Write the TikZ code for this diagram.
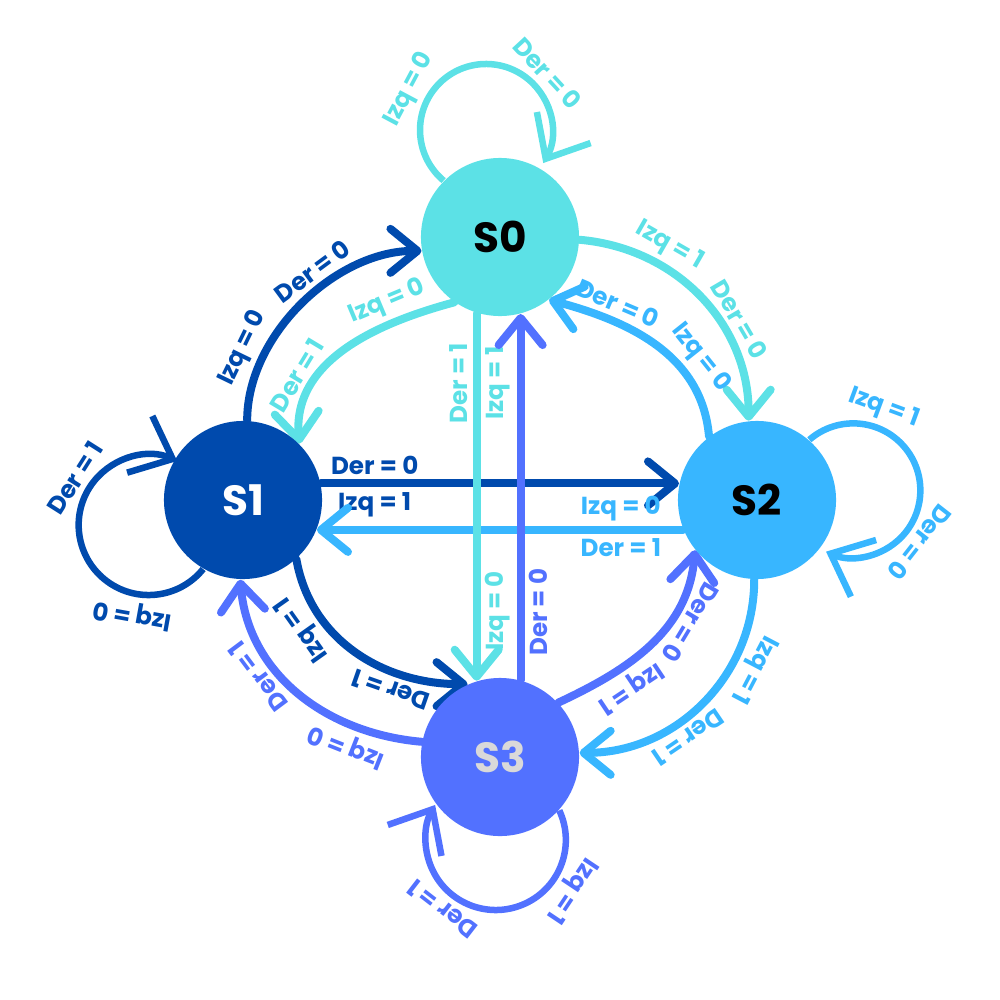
\documentclass[tikz,border=0pt]{standalone}
\usepackage{fontspec}
\setmainfont{Poppins}
\usetikzlibrary{arrows.meta,backgrounds}

\definecolor{cturq}{HTML}{5CE1E6}
\definecolor{cnavy}{HTML}{004AAD}
\definecolor{csky}{HTML}{38B6FF}
\definecolor{cviolet}{HTML}{5271FF}
\definecolor{cgray}{HTML}{D9D9D9}

\tikzset{
  state/.style={circle, minimum size=15.8mm, inner sep=0pt, font=\fontsize{12}{14}\selectfont\bfseries},
  tr/.style={line width=0.8mm, line cap=round, -{Straight Barb[length=2.7mm,width=4.4mm,round]}},
  selfloop/.style={line width=0.65mm, -{Straight Barb[length=3.6mm,width=6.2mm]}},
  lbl/.style={font=\fontsize{7}{8}\selectfont\bfseries, inner sep=1.4pt},
  lab/.style={lbl, sloped, above},
  labu/.style={lbl, sloped, allow upside down, above},
  labr/.style={lbl, sloped, allow upside down, rotate=180, above},
  rot/.style={lbl, rotate=90}
}

\begin{document}
\begin{tikzpicture}[x=0.01cm,y=0.01cm]
\useasboundingbox (0,0) rectangle (1000,-1000);

% states
\node[state, fill=cturq] (S0) at (500,-237) {S0};
\node[state, fill=cnavy, text=white] (S1) at (243,-500) {S1};
\node[state, fill=csky] (S2) at (757,-500) {S2};
\node[state, fill=cviolet, text=cgray] (S3) at (500,-757) {S3};

\begin{scope}[on background layer]
% self loops
\draw[selfloop, cturq] (S0.135) arc[start angle=-130, end angle=-390, radius=6.6mm]
  node[labu, pos=0.3] {Izq = 0} node[labu, pos=0.72] {Der = 0};
\draw[selfloop, cnavy] (S1.-120) arc[start angle=-39, end angle=-294, radius=7mm]
  node[labu, pos=0.24] {Izq = 0} node[labu, pos=0.68] {Der = 1};
\draw[selfloop, csky] (S2.49) arc[start angle=-229, end angle=-474, radius=6.7mm]
  node[labu, pos=0.25] {Izq = 1} node[labu, pos=0.69] {Der = 0};
\draw[selfloop, cviolet] (S3.-42) arc[start angle=25, end angle=-210, radius=7mm]
  node[labu, pos=0.25] {Izq = 1} node[labu, pos=0.65] {Der = 1};

% curved transitions
\draw[tr, cnavy] (S1.87) to[out=90, in=180, looseness=0.9]
  node[lab, pos=0.25] {Izq = 0} node[lab, pos=0.6] {Der = 0} (S0.190);
\draw[tr, cturq] (S0.235) to[out=195, in=95]
  node[lab, pos=0.25] {Izq = 0} node[lab, pos=0.72] {Der = 1} (S1.45);
\draw[tr, cturq] (S0.358) to[out=-5, in=90]
  node[lab, pos=0.3] {Izq = 1} node[lab, pos=0.65] {Der = 0} (S2.96);
\draw[tr, csky] (S2.127) to[out=95, in=-15]
  node[lab, pos=0.32] {Izq = 0} node[lab, pos=0.73] {Der = 0} (S0.-52);
\draw[tr, cnavy] (S1.-48) to[out=-80, in=180]
  node[labr, pos=0.27] {Izq = 1} node[labr, pos=0.7] {Der = 1} (S3.114);
\draw[tr, cviolet] (S3.169) to[out=175, in=-85]
  node[labu, pos=0.25] {Izq = 0} node[labu, pos=0.65] {Der = 1} (S1.-92);
\draw[tr, cviolet] (S3.43) to[out=25, in=-95]
  node[labr, pos=0.3] {Izq = 1} node[labr, pos=0.69] {Der = 0} (S2.219);
\draw[tr, csky] (S2.-92) to[out=-90, in=0]
  node[labu, pos=0.3] {Izq = 1} node[labu, pos=0.62] {Der = 1} (S3.3);

% straight transitions
\draw[tr, cnavy] (S1.12) -- node[lbl, pos=0.15, above] {Der = 0}
  node[lbl, pos=0.15, below] {Izq = 1} (S2.168);
\draw[tr, csky] (S2.-158) -- node[lbl, pos=0.17, above] {Izq = 0}
  node[lbl, pos=0.17, below] {Der = 1} (S1.-22);
\draw[tr, cturq] (S0.-107) -- node[rot, pos=0.19, above] {Der = 1}
  node[rot, pos=0.19, below] {Izq = 1} node[rot, pos=0.81, below] {Izq = 0} (S3.107);
\draw[tr, cviolet] (S3.75) -- node[rot, pos=0.185, below] {Der = 0} (S0.-75);
\end{scope}
\end{tikzpicture}
\end{document}
